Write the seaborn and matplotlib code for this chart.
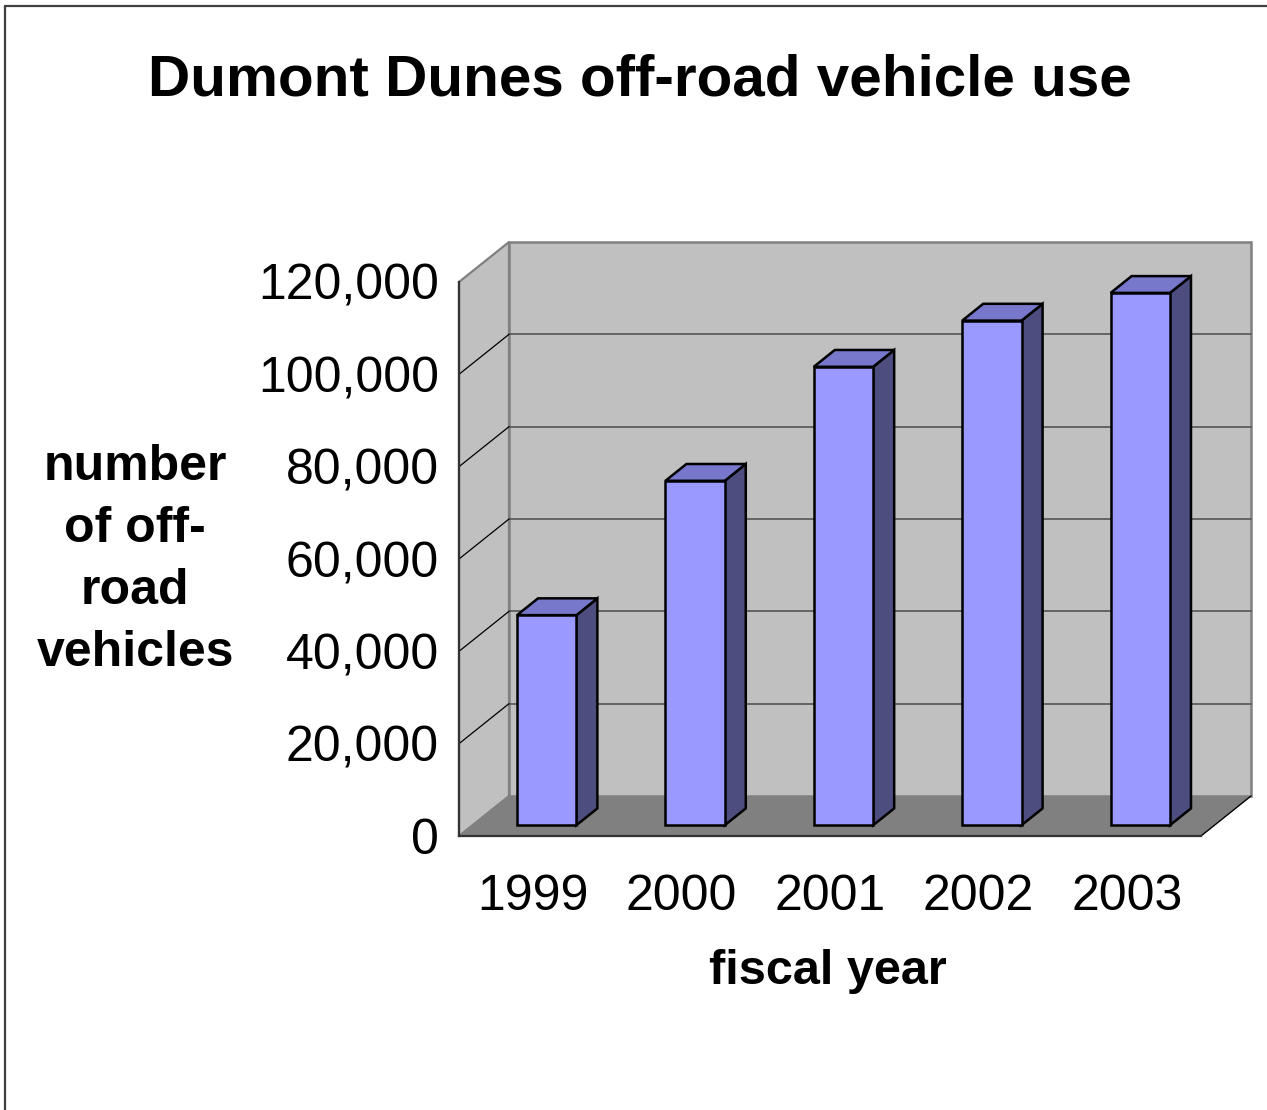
import matplotlib
matplotlib.use("Agg")
import matplotlib.pyplot as plt
import matplotlib.transforms as mtransforms
from matplotlib.patches import Polygon, Rectangle
from matplotlib.lines import Line2D
import seaborn as sns
import pandas as pd

# ---- data ----
years = ["1999", "2000", "2001", "2002", "2003"]
vehicles = [45500, 74600, 99300, 109300, 115300]
y_ticks = [0, 20000, 40000, 60000, 80000, 100000, 120000]
title = "Dumont Dunes off-road vehicle use"
x_title = "fiscal year"
y_title = "number\nof off-\nroad\nvehicles"

sns.set_theme(style="white")
plt.rcParams["font.family"] = ["Liberation Sans", "DejaVu Sans"]

W, H = 1267, 1110
fig = plt.figure(figsize=(W / 100, H / 100), dpi=100)

# front plane: left 459, floor front 836, 120000 at 282; back wall reaches x=1251, y=242
ax = fig.add_axes([459 / W, (H - 836) / H, (1251 - 459) / W, (836 - 242) / H])
cat_px = (1201 - 459) / 5.0
DX = 50 / cat_px
YMAX = y_ticks[-1]
DY = YMAX * 40 / (836 - 282)

df = pd.DataFrame({"year": years, "vehicles": vehicles})
sns.barplot(data=df, x="year", y="vehicles", ax=ax, color="#9999FF",
            width=0.4, edgecolor="black", linewidth=1.8, saturation=1, zorder=5)

x0l, x1r = -0.5, len(years) - 0.5
ax.set_xlim(x0l, x1r + DX)
ax.set_ylim(0, YMAX + DY)
ax.patch.set_visible(False)
for s in ["top", "right"]:
    ax.spines[s].set_visible(False)

wall_c = "#C0C0C0"
floor_c = "#808080"
edge_c = "#808080"

# left side wall
ax.add_patch(Polygon([(x0l, 0), (x0l + DX, DY), (x0l + DX, YMAX + DY), (x0l, YMAX)],
                     closed=True, facecolor=wall_c, edgecolor=edge_c, lw=1.6,
                     zorder=0, clip_on=False))
# back wall
ax.add_patch(Rectangle((x0l + DX, DY), x1r - x0l, YMAX, facecolor=wall_c,
                       edgecolor=edge_c, lw=1.8, zorder=0, clip_on=False))
# floor
ax.add_patch(Polygon([(x0l, 0), (x1r, 0), (x1r + DX, DY), (x0l + DX, DY)], closed=True,
                     facecolor=floor_c, edgecolor="none", zorder=1, clip_on=False))
ax.plot([x1r, x1r + DX], [0, DY], color="black", lw=1.0, zorder=2, clip_on=False)

# gridlines
for t in y_ticks[1:-1]:
    ax.plot([x0l + DX, x1r + DX], [t + DY, t + DY], color="#555555", lw=1.2, zorder=1,
            clip_on=False)
    ax.plot([x0l, x0l + DX], [t, t + DY], color="black", lw=0.9, zorder=1, clip_on=False)

# 3-D bars: shift front faces into depth, add side and top faces
f0, f1 = 0.27, 0.69
ox, oy = f0 * DX, f0 * DY
ddx, ddy = (f1 - f0) * DX, (f1 - f0) * DY
shift = mtransforms.Affine2D().translate(ox, oy) + ax.transData
for p in list(ax.patches):
    if p.get_facecolor()[:3] != matplotlib.colors.to_rgb("#9999FF"):
        continue
    p.set_transform(shift)
    p.set_clip_on(False)
    p.set_joinstyle("miter")
    bx = p.get_x() + ox
    bw = p.get_width()
    bh = p.get_height() + oy
    by = oy
    side = Polygon([(bx + bw, by), (bx + bw + ddx, by + ddy), (bx + bw + ddx, bh + ddy),
                    (bx + bw, bh)], closed=True, facecolor="#4D4D80", edgecolor="black",
                   lw=1.8, zorder=4, clip_on=False, joinstyle="miter")
    top = Polygon([(bx, bh), (bx + bw, bh), (bx + bw + ddx, bh + ddy), (bx + ddx, bh + ddy)],
                  closed=True, facecolor="#7777CC", edgecolor="black", lw=1.8, zorder=4,
                  clip_on=False, joinstyle="miter")
    ax.add_patch(side)
    ax.add_patch(top)

# axes spines and ticks
ax.spines["left"].set_bounds(0, YMAX)
ax.spines["bottom"].set_bounds(x0l, x1r)
for s in ["left", "bottom"]:
    ax.spines[s].set_color("#333333")
    ax.spines[s].set_linewidth(1.6)
    ax.spines[s].set_zorder(6)

ax.set_yticks(y_ticks)
ax.set_yticklabels([f"{v:,}" for v in y_ticks])
ax.tick_params(axis="y", which="major", direction="out", length=9.5, width=1.2,
               color="#444444", labelsize=36, pad=5, labelcolor="black")

ax.set_xticks([x0l + i for i in range(len(years) + 1)])
ax.set_xticklabels([""] * (len(years) + 1))
ax.set_xticks(range(len(years)), minor=True)
ax.set_xticklabels(years, minor=True)
ax.tick_params(axis="x", which="major", direction="out", length=11, width=1.2,
               color="#444444")
ax.tick_params(axis="x", which="minor", length=0, labelsize=36, pad=27, labelcolor="black")
ax.set_xlabel("")
ax.set_ylabel("")

# titles
fig.text(640 / W, 1 - 80 / H, title, ha="center", va="center", fontsize=42,
         fontweight="bold", color="black")
fig.text(828 / W, 1 - 972 / H, x_title, ha="center", va="center", fontsize=35,
         fontweight="bold", color="black")
fig.text(135 / W, 1 - 560 / H, y_title, ha="center", va="center", fontsize=36,
         fontweight="bold", color="black", linespacing=1.45, multialignment="center")

# chart border (left and top visible)
fig.add_artist(Line2D([4.5 / W, 4.5 / W], [0, 1 - 5.5 / H], transform=fig.transFigure,
                      color="#404040", lw=1.6))
fig.add_artist(Line2D([4.5 / W, 1], [1 - 5.5 / H, 1 - 5.5 / H], transform=fig.transFigure,
                      color="#404040", lw=1.6))

fig.savefig("out.png", dpi=100, facecolor="white")
